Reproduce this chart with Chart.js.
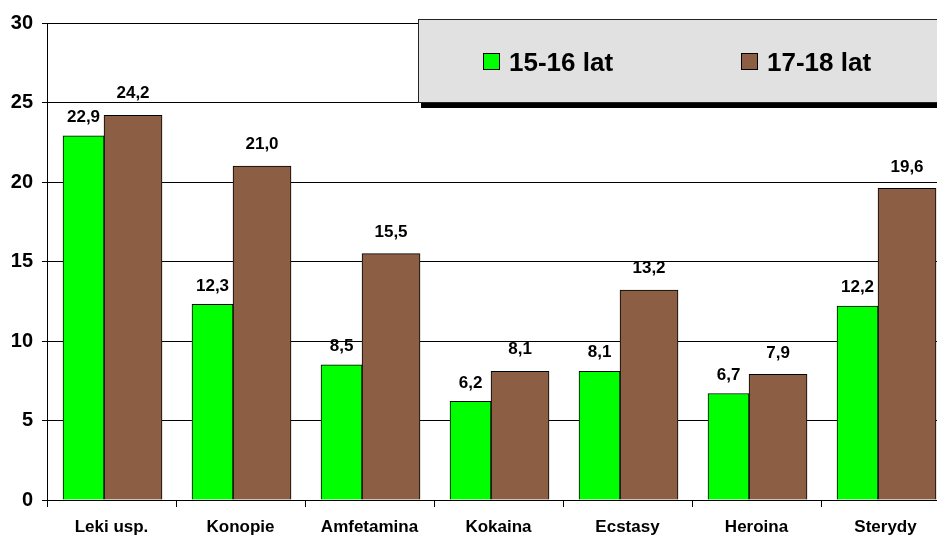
<!DOCTYPE html>
<html>
<head>
<meta charset="utf-8">
<script src="https://cdn.jsdelivr.net/npm/chart.js@4"></script>
<style>
    html, body { margin: 0; padding: 0; background: #fff; overflow: hidden; }
    #wrap { position: relative; width: 950px; height: 536px; }
</style>
</head>
<body>
<div id="wrap"><canvas id="drugChart"></canvas></div>
<script>
const categories = ['Leki usp.', 'Konopie', 'Amfetamina', 'Kokaina', 'Ecstasy', 'Heroina', 'Sterydy'];
const age1516 = [22.9, 12.3, 8.5, 6.2, 8.1, 6.7, 12.2];
const age1718 = [24.2, 21.0, 15.5, 8.1, 13.2, 7.9, 19.6];
const yTicks = [0, 5, 10, 15, 20, 25, 30];

const FONT = 'Arial, "Liberation Sans", sans-serif';

function fmt(v) {
    return v.toFixed(1).replace('.', ',');
}

// value labels above each bar
const valueLabels = {
    id: 'valueLabels',
    afterDatasetsDraw(chart) {
        const ctx = chart.ctx;
        ctx.save();
        ctx.font = 'bold 17px ' + FONT;
        ctx.fillStyle = '#000';
        ctx.textAlign = 'center';
        ctx.textBaseline = 'bottom';
        chart.data.datasets.forEach((ds, di) => {
            chart.getDatasetMeta(di).data.forEach((bar, i) => {
                ctx.fillText(fmt(ds.data[i].y), bar.x, bar.y - ds.labelGap);
            });
        });
        ctx.restore();
    }
};

// grey legend box with shadow, top right
const boxLegend = {
    id: 'boxLegend',
    afterDraw(chart) {
        const ctx = chart.ctx;
        const left = 418, top = 19, bottom = 103, right = chart.width + 5;
        ctx.save();
        ctx.fillStyle = '#000';
        ctx.fillRect(left + 3, bottom, right - left, 5);
        ctx.fillStyle = '#e1e1e1';
        ctx.fillRect(left, top, right - left, bottom - top);
        ctx.strokeStyle = '#222';
        ctx.lineWidth = 1;
        ctx.strokeRect(left + 0.5, top + 0.5, right - left, bottom - top - 1);
        ctx.font = 'bold 26px ' + FONT;
        ctx.textBaseline = 'alphabetic';
        ctx.textAlign = 'left';
        chart.data.datasets.forEach((ds, i) => {
            const x = 483 + i * 258;
            ctx.fillStyle = ds.backgroundColor;
            ctx.fillRect(x, 53, 17, 17);
            ctx.strokeStyle = '#000';
            ctx.strokeRect(x + 0.5, 53.5, 16, 16);
            ctx.fillStyle = '#000';
            ctx.fillText(ds.label, x + 26, 71);
        });
        ctx.restore();
    }
};

const ctx = document.getElementById('drugChart');
new Chart(ctx, {
    type: 'bar',
    data: {
        labels: categories,
        datasets: [{
            label: '15-16 lat',
            data: age1516.map((v, i) => ({ x: i, y: v })),
            backgroundColor: '#00ff00',
            borderColor: '#000',
            borderWidth: 1,
            barThickness: 41,
            labelGap: 10,
            xAxisID: 'xb'
        }, {
            label: '17-18 lat',
            data: age1718.map((v, i) => ({ x: i, y: v })),
            backgroundColor: '#8c5e44',
            borderColor: '#000',
            borderWidth: 1,
            barThickness: 58,
            labelGap: 13,
            xAxisID: 'xb'
        }]
    },
    options: {
        responsive: true,
        maintainAspectRatio: false,
        animation: false,
        layout: {
            padding: { top: 23, left: 0, right: 0, bottom: 0 }
        },
        plugins: {
            legend: { display: false },
            tooltip: { enabled: false }
        },
        scales: {
            x: {
                type: 'category',
                offset: true,
                grid: {
                    drawOnChartArea: false,
                    drawTicks: true,
                    tickLength: 7,
                    color: '#000',
                    offset: true
                },
                border: { display: true, color: '#000', width: 1 },
                ticks: {
                    color: '#000',
                    font: { family: FONT, size: 17, weight: 'bold' },
                    padding: 10,
                    maxRotation: 0
                },
                afterFit: (s) => { s.height = 36; }
            },
            xb: {
                type: 'linear',
                display: false,
                offset: false,
                grace: 0,
                min: -0.442,
                max: 6.558
            },
            y: {
                min: 0,
                max: 30,
                afterBuildTicks: (s) => { s.ticks = yTicks.map(v => ({ value: v })); },
                grid: {
                    color: '#000',
                    lineWidth: 1,
                    tickLength: 5
                },
                border: { display: true, color: '#000', width: 1 },
                ticks: {
                    color: '#000',
                    font: { family: FONT, size: 20, weight: 'bold' },
                    padding: 9
                },
                afterFit: (s) => { s.width = 47; }
            }
        }
    },
    plugins: [valueLabels, boxLegend]
});
</script>
</body>
</html>
